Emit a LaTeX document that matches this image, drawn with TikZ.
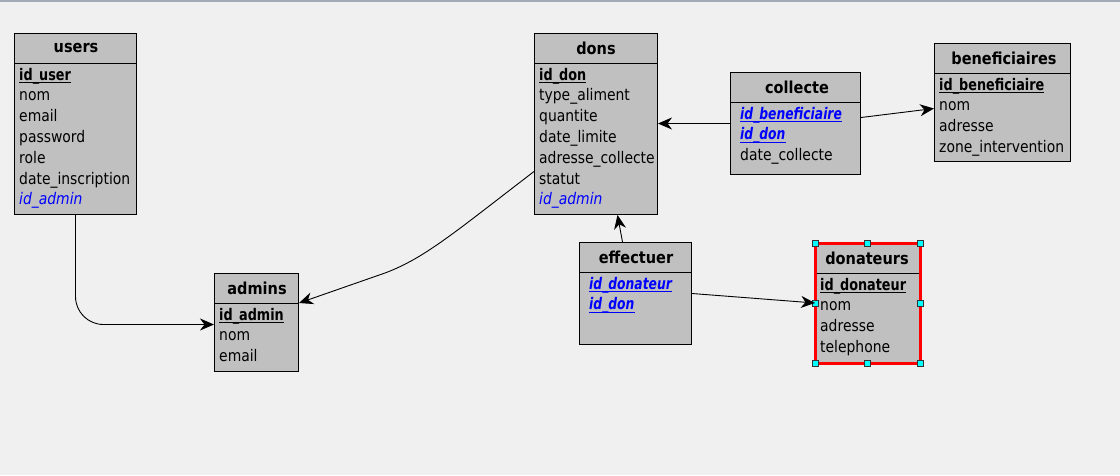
\documentclass[tikz,border=0pt]{standalone}
\usepackage{fontspec}
\setmainfont{DejaVu Sans}[FakeStretch=0.87,
  BoldFeatures={FakeStretch=0.80},
  BoldItalicFeatures={FakeStretch=0.77}]
\newfontfamily\headfont{DejaVu Sans}[FakeStretch=0.88]
\usetikzlibrary{arrows.meta}

\definecolor{canvas}{HTML}{F0F0F0}
\definecolor{tablefill}{HTML}{C0C0C0}
\definecolor{fkblue}{HTML}{0000FF}
\definecolor{topline}{HTML}{A3AAB8}
\definecolor{handle}{HTML}{00FFFF}

\tikzset{
  x=1pt, y=-1pt,
  tbox/.style={draw=black, fill=tablefill, line width=1pt, inner sep=0pt, anchor=north west},
  ttitle/.style={font=\headfont\bfseries\fontsize{16.5}{19}\selectfont, inner sep=0pt, anchor=center},
  field/.style={font=\fontsize{16}{19}\selectfont, inner sep=0pt, anchor=base west, text=black},
  pkfield/.style={field, font=\bfseries\fontsize{16}{19}\selectfont},
  fkfield/.style={field, font=\itshape\fontsize{16}{19}\selectfont, text=fkblue},
  ckfield/.style={field, font=\bfseries\itshape\fontsize{16}{19}\selectfont, text=fkblue},
  link/.style={draw=black, line width=0.9pt, -{Stealth[length=14pt, width=12pt, inset=4.5pt]}},
  selbox/.style={draw=red, line width=3pt},
  grip/.style={draw=black!80, fill=handle, line width=0.8pt, minimum size=6pt, inner sep=0pt},
}

% underline of a key field, drawn under the node's baseline
\newcommand\keyrule[2]{\draw[#2, line width=1.3pt] ([yshift=-2.8pt]#1.base west) -- ([yshift=-2.8pt]#1.base east);}
% separator under a table's title band
\newcommand\titlerule[2]{\draw[line width=1pt] ([yshift=-#2pt]#1.north west) -- ([yshift=-#2pt]#1.north east);}

\begin{document}
\begin{tikzpicture}
  % canvas
  \fill[canvas] (0,0) rectangle (1120,475);
  \useasboundingbox (0,0) rectangle (1120,475);
  \draw[topline, line width=2pt] (0,1) -- (1120,1);

  % ---------- users ----------
  \node[tbox, minimum width=122pt, minimum height=181pt] (users) at (14,33) {};
  \titlerule{users}{30}
  \node[ttitle] (users-t) at (76,48) {users};
  \node[pkfield] (users-1) at (19,80) {id\_user};
  \keyrule{users-1}{black}
  \node[field] (users-2) at (19,100.8) {nom};
  \node[field] (users-3) at (19,121.6) {email};
  \node[field] (users-4) at (19,142.4) {password};
  \node[field] (users-5) at (19,163.2) {role};
  \node[field] (users-6) at (19,184) {date\_inscription};
  \node[fkfield] (users-7) at (19,204.8) {id\_admin};

  % ---------- dons ----------
  \node[tbox, minimum width=123pt, minimum height=181pt] (dons) at (534,33) {};
  \titlerule{dons}{30}
  \node[ttitle] (dons-t) at (596,48) {dons};
  \node[pkfield] (dons-1) at (539,80) {id\_don};
  \keyrule{dons-1}{black}
  \node[field] (dons-2) at (539,100.8) {type\_aliment};
  \node[field] (dons-3) at (539,121.6) {quantite};
  \node[field] (dons-4) at (539,142.4) {date\_limite};
  \node[field] (dons-5) at (539,163.2) {adresse\_collecte};
  \node[field] (dons-6) at (539,184) {statut};
  \node[fkfield] (dons-7) at (539,204.8) {id\_admin};

  % ---------- collecte ----------
  \node[tbox, minimum width=130pt, minimum height=102pt] (collecte) at (730,72) {};
  \titlerule{collecte}{30}
  \node[ttitle] (collecte-t) at (797,87) {collecte};
  \node[ckfield] (collecte-1) at (740,119) {id\_beneficiaire};
  \keyrule{collecte-1}{fkblue}
  \node[ckfield] (collecte-2) at (740,139.8) {id\_don};
  \keyrule{collecte-2}{fkblue}
  \node[field] (collecte-3) at (740,160.6) {date\_collecte};

  % ---------- beneficiaires ----------
  \node[tbox, minimum width=136pt, minimum height=118pt] (benef) at (934,43) {};
  \titlerule{benef}{30}
  \node[ttitle] (benef-t) at (1004,58) {beneficiaires};
  \node[pkfield] (benef-1) at (939,90) {id\_beneficiaire};
  \keyrule{benef-1}{black}
  \node[field] (benef-2) at (939,110.8) {nom};
  \node[field] (benef-3) at (939,131.6) {adresse};
  \node[field] (benef-4) at (939,152.4) {zone\_intervention};

  % ---------- admins ----------
  \node[tbox, minimum width=84pt, minimum height=98pt] (admins) at (214,273) {};
  \titlerule{admins}{30}
  \node[ttitle] (admins-t) at (257,288) {admins};
  \node[pkfield] (admins-1) at (219,320) {id\_admin};
  \keyrule{admins-1}{black}
  \node[field] (admins-2) at (219,340.8) {nom};
  \node[field] (admins-3) at (219,361.6) {email};

  % ---------- effectuer ----------
  \node[tbox, minimum width=112pt, minimum height=102pt] (effectuer) at (579,242) {};
  \titlerule{effectuer}{30}
  \node[ttitle] (effectuer-t) at (636,257) {effectuer};
  \node[ckfield] (effectuer-1) at (589,289) {id\_donateur};
  \keyrule{effectuer-1}{fkblue}
  \node[ckfield] (effectuer-2) at (589,309.8) {id\_don};
  \keyrule{effectuer-2}{fkblue}

  % ---------- donateurs (selected) ----------
  \node[tbox, minimum width=104pt, minimum height=119pt] (donateurs) at (815,243) {};
  \titlerule{donateurs}{30}
  \node[ttitle] (donateurs-t) at (867,258) {donateurs};
  \node[pkfield] (donateurs-1) at (820,290) {id\_donateur};
  \keyrule{donateurs-1}{black}
  \node[field] (donateurs-2) at (820,310.8) {nom};
  \node[field] (donateurs-3) at (820,331.6) {adresse};
  \node[field] (donateurs-4) at (820,352.4) {telephone};
  \draw[selbox] (donateurs.north west) rectangle (donateurs.south east);
  \foreach \a [count=\i] in {north west, north, north east, west, east, south west, south, south east}
    \node[grip] (grip-\i) at (donateurs.\a) {};

  % ---------- relations ----------
  \draw[link, rounded corners=28pt] (users.south) |- ([yshift=-2pt]admins.west);

  \coordinate (dons-out) at ([yshift=-47.5pt]dons.west);
  \coordinate (admins-in) at ([yshift=-30pt]admins.north east);
  \draw[link] (dons-out) .. controls (455,232) and (425,258) .. (385,273) -- (admins-in);

  \draw[link] (collecte.west) -- (collecte.west -| dons.east);
  \draw[link] ([yshift=6pt]collecte.east) -- ([yshift=-6pt]benef.west);
  \draw[link] ([xshift=-13pt]effectuer.north) -- ([xshift=21.5pt]dons.south);
  \draw[link] (effectuer.east) -- (donateurs.west);
\end{tikzpicture}
\end{document}
